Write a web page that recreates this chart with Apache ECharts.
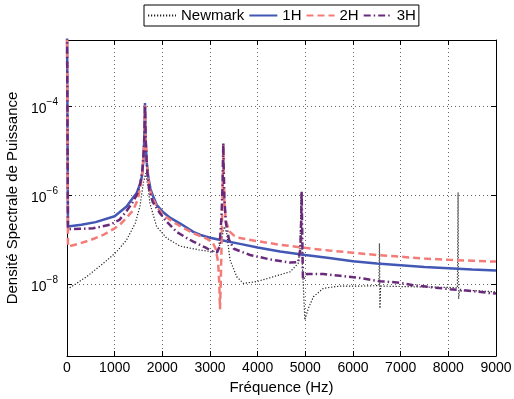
<!DOCTYPE html>
<html><head><meta charset="utf-8">
<script src="https://cdn.jsdelivr.net/npm/echarts@6/dist/echarts.min.js"></script>
<style>html,body{margin:0;padding:0;background:#fff}#c{width:514px;height:399px}</style>
</head><body><div id="c"></div>
<script>
// Frequencies (Hz) and power spectral density values
const freqNewmark = [0, 100, 410, 760, 1040, 1250, 1430, 1530, 1600, 1650, 1700, 1740, 1880, 2090, 2370, 2790, 3070, 3180, 3250, 3300, 3350, 3420, 3560, 3700, 3980, 4330, 4680, 4850, 4890, 4910, 4935, 4990, 5060, 5170, 5380, 5730, 6150, 6540, 6555, 6565, 6580, 7000, 7500, 8000, 8190, 8205, 8215, 8235, 8500, 9000];
const psdNewmark = [7.76e-9, 8.91e-9, 1.48e-8, 2.95e-8, 5.37e-8, 1.0e-7, 2.34e-7, 5.62e-7, 1.86e-6, 3.16e-6, 1.58e-6, 6.61e-7, 2.0e-7, 1.10e-7, 7.24e-8, 5.89e-8, 5.37e-8, 6.31e-8, 1.12e-7, 2.0e-7, 1.41e-7, 3.55e-8, 1.48e-8, 1.05e-8, 1.15e-8, 1.48e-8, 1.91e-8, 2.95e-8, 6.31e-8, 1.12e-6, 3.16e-8, 1.58e-9, 2.82e-9, 5.25e-9, 8.13e-9, 9.12e-9, 9.12e-9, 9.33e-9, 8.32e-8, 2.88e-9, 9.12e-9, 8.91e-9, 8.71e-9, 8.51e-9, 8.32e-9, 1.17e-6, 4.68e-9, 7.08e-9, 7.24e-9, 6.76e-9];

const freq1H = [0, 20, 300, 600, 1000, 1250, 1400, 1460, 1530, 1570, 1600, 1620, 1630, 1636, 1642, 1652, 1672, 1705, 1750, 1800, 1880, 2000, 2160, 2400, 2650, 2800, 3000, 3350, 3630, 4000, 4470, 5000, 5500, 6000, 6500, 7000, 7500, 8000, 8500, 9000];
const psd1H = [1e-2, 2.0e-7, 2.19e-7, 2.51e-7, 3.39e-7, 5.62e-7, 9.33e-7, 1.12e-6, 1.78e-6, 2.63e-6, 5.62e-6, 1.58e-5, 5.01e-5, 1.20e-4, 5.01e-5, 1.58e-5, 5.62e-6, 2.63e-6, 1.41e-6, 1.0e-6, 6.17e-7, 4.37e-7, 3.16e-7, 2.24e-7, 1.51e-7, 1.29e-7, 1.12e-7, 9.33e-8, 8.13e-8, 6.76e-8, 5.50e-8, 4.57e-8, 3.89e-8, 3.31e-8, 2.95e-8, 2.69e-8, 2.45e-8, 2.29e-8, 2.14e-8, 2.04e-8];

const freq2H = [0, 20, 270, 500, 760, 1000, 1110, 1250, 1390, 1480, 1540, 1580, 1610, 1625, 1636, 1647, 1662, 1690, 1730, 1800, 1900, 2000, 2160, 2400, 2650, 2900, 3050, 3120, 3170, 3195, 3210, 3225, 3245, 3262, 3272, 3279, 3286, 3300, 3330, 3400, 3500, 3630, 4000, 4470, 5000, 5500, 6000, 6500, 7000, 7500, 8000, 8500, 9000];
const psd2H = [1e-2, 7.08e-8, 8.32e-8, 1.0e-7, 1.29e-7, 1.82e-7, 2.19e-7, 3.16e-7, 4.68e-7, 7.94e-7, 1.58e-6, 3.16e-6, 1.0e-5, 2.51e-5, 1.07e-4, 2.51e-5, 1.0e-5, 3.16e-6, 1.41e-6, 8.32e-7, 5.25e-7, 3.80e-7, 2.82e-7, 1.95e-7, 1.41e-7, 1.10e-7, 8.91e-8, 6.31e-8, 3.16e-8, 1.0e-8, 2.75e-9, 1.0e-8, 1.0e-7, 1.0e-6, 3.98e-6, 1.41e-5, 3.98e-6, 7.94e-7, 2.82e-7, 1.58e-7, 1.26e-7, 1.10e-7, 9.33e-8, 7.76e-8, 6.61e-8, 5.75e-8, 5.13e-8, 4.57e-8, 4.17e-8, 3.80e-8, 3.55e-8, 3.39e-8, 3.24e-8];

const freq3H = [0, 20, 300, 550, 900, 1100, 1250, 1400, 1480, 1540, 1580, 1610, 1625, 1636, 1647, 1662, 1690, 1730, 1800, 1950, 2100, 2300, 2500, 2650, 2900, 3070, 3150, 3200, 3240, 3262, 3272, 3279, 3286, 3300, 3330, 3400, 3500, 3840, 4260, 4680, 4850, 4895, 4915, 4923, 4932, 4950, 4975, 5030, 5380, 5730, 6150, 6570, 6920, 7270, 7680, 8030, 8380, 8800, 9000];
const psd3H = [1e-2, 1.74e-7, 1.78e-7, 1.82e-7, 2.19e-7, 2.82e-7, 4.47e-7, 7.59e-7, 1.12e-6, 1.91e-6, 3.55e-6, 1.0e-5, 2.51e-5, 1.07e-4, 2.51e-5, 8.91e-6, 2.82e-6, 1.26e-6, 7.08e-7, 3.98e-7, 2.51e-7, 1.51e-7, 1.12e-7, 9.12e-8, 6.76e-8, 5.37e-8, 5.25e-8, 7.08e-8, 3.16e-7, 1.58e-6, 5.01e-6, 1.51e-5, 5.01e-6, 1.0e-6, 2.51e-7, 1.0e-7, 6.31e-8, 4.57e-8, 3.63e-8, 3.09e-8, 3.16e-8, 6.31e-8, 3.16e-7, 1.23e-6, 2.51e-7, 1.26e-8, 1.41e-8, 1.70e-8, 1.70e-8, 1.55e-8, 1.38e-8, 1.17e-8, 1.10e-8, 9.55e-9, 8.51e-9, 7.76e-9, 7.24e-9, 6.46e-9, 6.17e-9];

const seriesNames = ['Newmark', '1H', '2H', '3H'];
const yLabelExponents = [-4, -6, -8];
const xMin = 0, xMax = 9000, xStep = 1000;
const yMin = 2.43e-10, yMax = 3.16e-3;

const font = '"Liberation Sans", Arial, Helvetica, sans-serif';
const pairs = (f, v) => f.map((x, i) => [x, v[i]]);

function yFmt(v) {
  const l = Math.log10(v);
  const e = Math.round(l);
  if (Math.abs(l - e) > 0.01 || yLabelExponents.indexOf(e) < 0) return '';
  return '{b|10}{e|\u2212' + (-e) + '}';
}

const axisCommonX = {
  type: 'value', min: xMin, max: xMax, interval: xStep,
  axisLine: { show: true, onZero: false, lineStyle: { color: '#000', width: 1 } },
  axisTick: { show: true, inside: true, length: 5, lineStyle: { color: '#000' } }
};
const axisCommonY = {
  type: 'log', logBase: 100, min: yMin, max: yMax,
  axisLine: { show: true, onZero: false, lineStyle: { color: '#000', width: 1 } },
  axisTick: { show: true, inside: true, length: 5, lineStyle: { color: '#000' } }
};

const chart = echarts.init(document.getElementById('c'), null, { renderer: 'canvas' });
chart.setOption({
  animation: false,
  backgroundColor: '#fff',
  textStyle: { fontFamily: font },
  legend: {
    top: 5, left: 144, itemWidth: 28, itemHeight: 12, itemGap: 4,
    padding: [3, 3, 3, 3], borderColor: '#000', borderWidth: 1, borderRadius: 0,
    itemStyle: { opacity: 0 },
    textStyle: { fontSize: 15, color: '#000', fontFamily: font },
    data: seriesNames
  },
  grid: { left: 67, right: 18, top: 40, bottom: 43, containLabel: false, outerBoundsMode: 'none' },
  xAxis: [
    Object.assign({}, axisCommonX, {
      position: 'bottom',
      axisLabel: { fontSize: 14, color: '#000', margin: 5, fontFamily: font, formatter: v => String(v) },
      splitLine: { show: true, lineStyle: { type: [1, 3], color: '#666', width: 1 } },
      name: 'Fr\u00e9quence (Hz)', nameLocation: 'middle', nameGap: 21,
      nameTextStyle: { fontSize: 15, color: '#000', fontFamily: font }
    }),
    Object.assign({}, axisCommonX, {
      position: 'top', axisLabel: { show: false }, splitLine: { show: false }
    })
  ],
  yAxis: [
    Object.assign({}, axisCommonY, {
      position: 'left',
      axisLabel: {
        formatter: yFmt, margin: 9, color: '#000',
        rich: {
          b: { fontSize: 14, fontFamily: font, color: '#000', padding: [6, 0, 0, 0] },
          e: { fontSize: 10, fontFamily: font, color: '#000', padding: [0, 0, 8, 0] }
        }
      },
      splitLine: { show: true, lineStyle: { type: [1, 3], color: '#666', width: 1 } },
      name: 'Densit\u00e9 Spectrale de Puissance', nameLocation: 'middle', nameGap: 46,
      nameTextStyle: { fontSize: 15, color: '#000', fontFamily: font }
    }),
    Object.assign({}, axisCommonY, {
      position: 'right', axisLabel: { show: false }, splitLine: { show: false }
    })
  ],
  series: [
    { name: 'Newmark', type: 'line', symbol: 'none', clip: true, z: 2,
      data: pairs(freqNewmark, psdNewmark),
      lineStyle: { color: '#222', width: 1.2, type: [1.2, 1.8] }, itemStyle: { color: '#222' } },
    { name: '1H', type: 'line', symbol: 'none', clip: true, z: 3,
      data: pairs(freq1H, psd1H),
      lineStyle: { color: '#4357B5', width: 2.5, type: 'solid' }, itemStyle: { color: '#4357B5' } },
    { name: '2H', type: 'line', symbol: 'none', clip: true, z: 4,
      data: pairs(freq2H, psd2H),
      lineStyle: { color: '#F47C78', width: 2.5, type: [7, 4] }, itemStyle: { color: '#F47C78' } },
    { name: '3H', type: 'line', symbol: 'none', clip: true, z: 5,
      data: pairs(freq3H, psd3H),
      lineStyle: { color: '#6A2A7C', width: 2.5, type: [7, 3, 1.5, 3] }, itemStyle: { color: '#6A2A7C' } }
  ]
});
</script></body></html>
